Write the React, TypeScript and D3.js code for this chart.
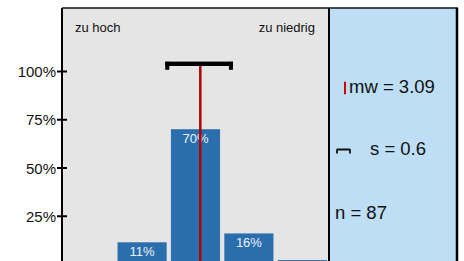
import React from 'react';
import * as d3 from 'd3';

// answer categories 1..5, share of answers in percent (n = 87)
const categories = [1, 2, 3, 4, 5];
const percents = [0, 11.5, 70.1, 16.1, 2.3];
const barLabels = ['', '11%', '70%', '16%', ''];
const yTicks = [25, 50, 75, 100];
const mean = 3.09;
const sd = 0.6;
const n = 87;
const leftLabel = 'zu hoch';
const rightLabel = 'zu niedrig';

export default function App() {
  const width = 464;
  const height = 261;
  const left = 62, right = 329, top = 8, panelRight = 457;

  const x = d3.scaleLinear().domain([0.5, 5.5]).range([left, right]);
  const band = d3.scaleBand<number>()
    .domain(categories)
    .range([left, right])
    .paddingInner(0.08)
    .paddingOuter(0.04);
  const y = d3.scaleLinear().domain([0, 100]).range([264.5, 71.5]);

  const errY = 63.8;
  const x0 = x(mean - sd) - 3;
  const x1 = x(mean + sd) + 0.6;
  const font = '"Liberation Sans", Arial, sans-serif';

  return (
    <svg width={width} height={height} style={{position: 'absolute', left: 0, top: 0}} fontFamily={font}>
      <rect x={left} y={top} width={right - left} height={height} fill="#e5e5e5" />
      <rect x={right} y={top} width={panelRight - right} height={height} fill="#bddef5" />

      {categories.map((c, i) => (
        <g key={c}>
          <rect x={band(c)} y={y(percents[i])} width={band.bandwidth()}
            height={y(0) - y(percents[i])} fill="#2a6ead" />
          {barLabels[i] && (
            <text x={band(c)! + band.bandwidth() / 2} y={y(percents[i]) + 14}
              fontSize={13} fill="#eef3fa" textAnchor="middle">{barLabels[i]}</text>
          )}
        </g>
      ))}

      {/* mean line and sd bar */}
      <line x1={x(mean)} x2={x(mean)} y1={errY + 2} y2={height} stroke="#b20000" strokeWidth={2.5} />
      <rect x={x0} y={errY - 2.2} width={x1 - x0} height={4.4} fill="#000" />
      <rect x={x0} y={errY - 2} width={4} height={8} fill="#000" />
      <rect x={x1 - 4} y={errY - 2} width={4} height={8} fill="#000" />

      <text x={75} y={32} fontSize={13} fill="#111">{leftLabel}</text>
      <text x={315} y={32} fontSize={13} fill="#111" textAnchor="end">{rightLabel}</text>

      {/* frame */}
      <line x1={left} x2={panelRight + 1} y1={top} y2={top} stroke="#111" strokeWidth={1.5} />
      <line x1={left} x2={left} y1={top} y2={height} stroke="#000" strokeWidth={2} />
      <line x1={right} x2={right} y1={top} y2={height} stroke="#000" strokeWidth={2} />
      <line x1={panelRight} x2={panelRight} y1={top} y2={height} stroke="#000" strokeWidth={2.5} />

      {yTicks.map(t => (
        <g key={t}>
          <line x1={57} x2={67} y1={y(t)} y2={y(t)} stroke="#000" strokeWidth={2} />
          <text x={56} y={y(t) + 5.5} fontSize={15} textAnchor="end" fill="#111">{t}%</text>
        </g>
      ))}

      {/* stats panel */}
      <line x1={345} x2={345} y1={81.7} y2={94.3} stroke="#cc0000" strokeWidth={2} />
      <text x={349} y={92.7} fontSize={18.5} fill="#111">{`mw = ${mean.toFixed(2)}`}</text>
      <path d="M337,153.5 V150 Q337,149.5 338,149.5 H349 Q350,149.5 350,150 V153.5" fill="none" stroke="#111" strokeWidth={1.8} />
      <text x={370} y={155} fontSize={18.5} fill="#111">{`s = ${sd}`}</text>
      <text x={335} y={219.3} fontSize={18.5} fill="#111">{`n = ${n}`}</text>
    </svg>
  );
}
